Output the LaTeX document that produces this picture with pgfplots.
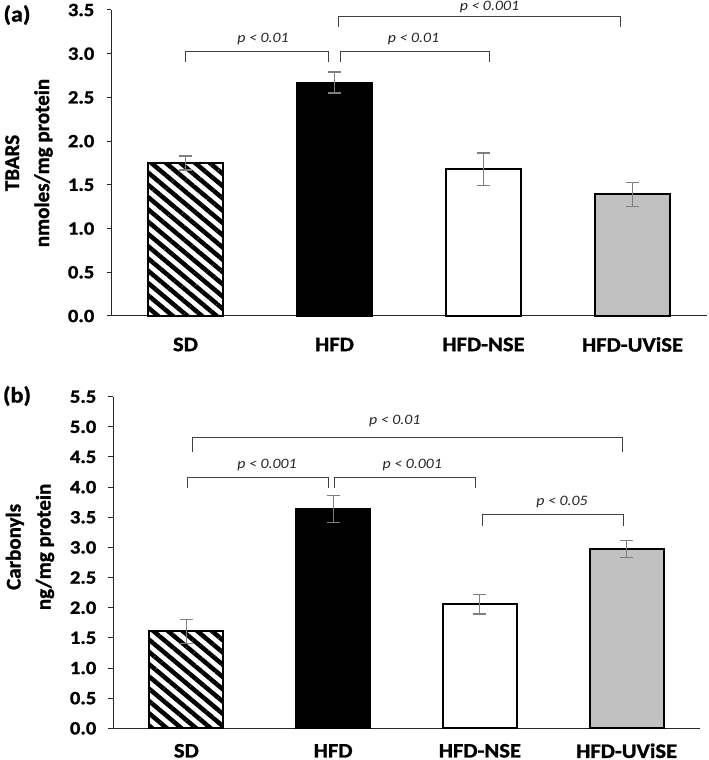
\documentclass[border=0pt]{standalone}
\usepackage{pgfplots}
\pgfplotsset{compat=1.18}
\usepackage{fontspec}
\setmainfont{Carlito}[FakeStretch=1.1, BoldFeatures={FakeBold=1.2}]
\newfontfamily\ylabfont{Carlito}[BoldFeatures={FakeBold=1.2}]
\usetikzlibrary{patterns.meta}

\definecolor{errgray}{HTML}{7F7F7F}
\definecolor{brk}{HTML}{404040}
\definecolor{uvgray}{HTML}{C0C0C0}

\tikzset{
  plab/.style={font=\itshape\fontsize{14.4}{16}\selectfont, text=black!85},
  brack/.style={brk, line width=1pt},
}

\pgfplotsset{
  panel/.style={
    scale only axis,
    anchor=south west,
    axis x line=bottom, axis y line=left,
    axis line style={-, line width=1pt, black!85},
    xmin=-0.5, xmax=3.5,
    xtick={0,1,2,3},
    xticklabels={SD,HFD,HFD-NSE,HFD-UViSE},
    x tick style={draw=none},
    xticklabel style={anchor=center, inner sep=0pt, yshift=-24pt, font=\bfseries\fontsize{20.5}{22}\selectfont},
    ymin=0,
    tick align=outside,
    major tick length=4.5pt,
    y tick style={line width=1pt, black!85},
    yticklabel style={anchor=east, inner sep=0pt, xshift=-12pt, font=\bfseries\fontsize{18.7}{20}\selectfont},
    /pgf/number format/.cd, fixed, fixed zerofill, precision=1, assume math mode=true, /pgfplots/.cd,
    ylabel style={anchor=center, align=center, font=\ylabfont\bfseries\fontsize{21}{30}\selectfont},
    clip=false,
    ybar, bar shift=0pt,
    error bars/y dir=both, error bars/y explicit,
    error bars/error bar style={errgray, line width=1.2pt},
    error bars/error mark options={rotate=90, mark size=6.5pt, errgray, line width=1.2pt},
  },
  sdbar/.style={draw=black, line width=2pt, pattern={Lines[angle=-40, distance=9.4pt, line width=4.5pt]}, pattern color=black},
  hfdbar/.style={draw=black, line width=2pt, fill=black},
  nsebar/.style={draw=black, line width=2pt, fill=white},
  uvbar/.style={draw=black, line width=2pt, fill=uvgray},
}

\begin{document}
\begin{tikzpicture}
\useasboundingbox (0,0) rectangle (709pt,760pt);

% (a) TBARS
\begin{axis}[panel,
    at={(111pt,444pt)}, width=596pt, height=306pt,
    bar width=75pt,
    ymax=3.5, ytick={0,0.5,...,3.5},
    ylabel={TBARS\\nmoles/mg protein},
    ylabel style={at={(axis description cs:-0.1376,0.5)}},
]
\addplot[sdbar] coordinates {(0,1.75) +- (0,0.08)};
\addplot[hfdbar] coordinates {(1,2.67) +- (0,0.12)};
\addplot[nsebar] coordinates {(2,1.68) +- (0,0.185)};
\addplot[uvbar] coordinates {(3,1.39) +- (0,0.14)};

\draw[brack] (axis cs:0,2.91) |- (axis cs:0.96,3.02) -- (axis cs:0.96,2.91);
\draw[brack] (axis cs:1.04,2.91) |- (axis cs:2.04,3.02) -- (axis cs:2.04,2.91);
\draw[brack] (axis cs:1.03,3.31) |- (axis cs:2.92,3.42) -- (axis cs:2.92,3.31);
\node[plab] at (axis cs:0.52,3.17) {p < 0.01};
\node[plab] at (axis cs:1.53,3.17) {p < 0.01};
\node[plab] at (axis cs:2.04,3.54) {p < 0.001};
\end{axis}

% (b) Carbonyls
\begin{axis}[panel,
    at={(113pt,31.7pt)}, width=587pt, height=331.6pt,
    bar width=74pt,
    xticklabel style={yshift=6pt},
    ymax=5.5, ytick={0,0.5,...,5.5},
    ylabel={Carbonyls\\ng/mg protein},
    ylabel style={at={(axis description cs:-0.1414,0.547)}},
]
\addplot[sdbar] coordinates {(0,1.61) +- (0,0.2)};
\addplot[hfdbar] coordinates {(1,3.64) +- (0,0.22)};
\addplot[nsebar] coordinates {(2,2.06) +- (0,0.165)};
\addplot[uvbar] coordinates {(3,2.97) +- (0,0.14)};

\draw[brack] (axis cs:0.04,4.59) |- (axis cs:2.97,4.83) -- (axis cs:2.97,4.59);
\draw[brack] (axis cs:0.01,3.98) |- (axis cs:0.97,4.16) -- (axis cs:0.97,3.98);
\draw[brack] (axis cs:1.01,3.98) |- (axis cs:1.97,4.16) -- (axis cs:1.97,3.98);
\draw[brack] (axis cs:2.02,3.35) |- (axis cs:2.98,3.54) -- (axis cs:2.98,3.35);
\node[plab] at (axis cs:1.42,5.1) {p < 0.01};
\node[plab] at (axis cs:0.55,4.37) {p < 0.001};
\node[plab] at (axis cs:1.54,4.37) {p < 0.001};
\node[plab] at (axis cs:2.56,3.76) {p < 0.05};
\end{axis}

\node[font=\bfseries\fontsize{22}{24}\selectfont] at (17pt,745pt) {(a)};
\node[font=\bfseries\fontsize{22}{24}\selectfont] at (17pt,364pt) {(b)};
\end{tikzpicture}
\end{document}
